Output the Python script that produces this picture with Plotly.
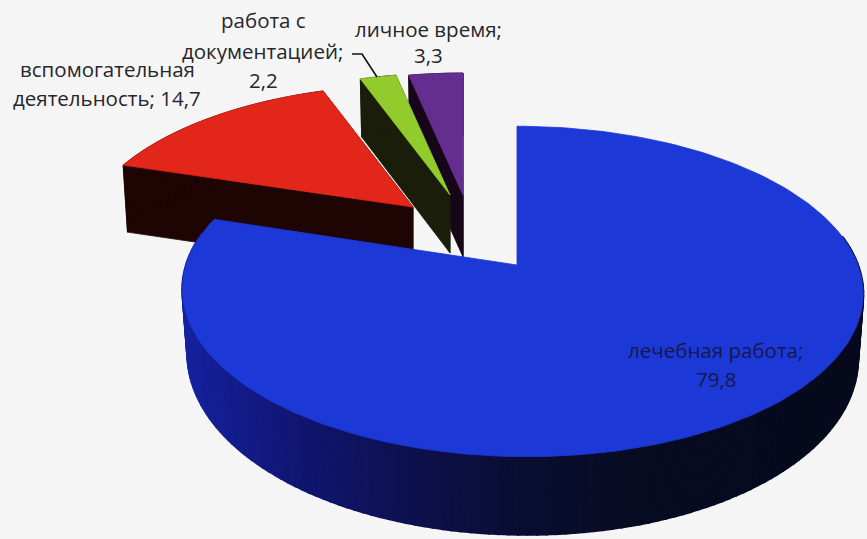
import numpy as np
import plotly.graph_objects as go

# Shares of working time, percent
categories = ["лечебная работа", "вспомогательная деятельность", "работа с документацией", "личное время"]
values = [79.8, 14.7, 2.2, 3.3]
top_colors = ["#1c38d6", "#e2261a", "#91cb2c", "#642d90"]
wall_colors = [None, "#1f0404", "#1b1d0b", "#170618"]

# Per-slice apex and projection of the tilted disc (pixel axes)
apex_x = [517, 413, 450, 463]
apex_y = [265, 207, 195, 195]
radius_x = [336, 325, 324, 325]
radius_y = [161, 151, 151, 151]
perspective = [0.16, 0.238, 0.238, 0.238]
shear = [5, 0, 0, 0]
depth_base = [62, 67, 58, 62]
depth_front = [16, 0, 0, 0]
bottom_scale = 0.985

# Shading of the large slice's rim, from left to right
rim_x = [180, 300, 430, 520, 640, 870]
rim_r = [22, 16, 14, 10, 7, 6]
rim_g = [34, 22, 16, 14, 12, 10]
rim_b = [160, 112, 72, 50, 34, 28]

# Text lines: wording, centre x, centre y, colour
label_lines = [
    ("работа с", 263, 20, "#26262b"),
    ("документацией;", 262, 51, "#26262b"),
    ("2,2", 263, 80, "#26262b"),
    ("вспомогательная", 107, 69, "#26262b"),
    ("деятельность; 14,7", 107, 98, "#26262b"),
    ("личное время;", 428, 29, "#26262b"),
    ("3,3", 428, 55, "#26262b"),
    ("лечебная работа;", 715, 350, "#16184e"),
    ("79,8", 716, 379, "#16184e"),
]
leader_x = [352, 362, 377]
leader_y = [54, 54, 77]


def project(i, theta):
    """Top-face and bottom-face points of slice i at clockwise angles theta."""
    x = np.sin(theta)
    y = -np.cos(theta)
    f = 1 / (1 - perspective[i] * y)
    sx = apex_x[i] + radius_x[i] * x * f + shear[i] * (y + 1)
    sy = apex_y[i] + radius_y[i] * y * f
    bx = apex_x[i] + (sx - apex_x[i]) * bottom_scale
    by = sy + depth_base[i] + depth_front[i] * np.maximum(y, 0)
    return sx, sy, bx, by


def polygon(xs, ys, color, name, width=0.8):
    return go.Scatter(
        x=list(xs) + [xs[0]], y=list(ys) + [ys[0]], mode="lines", fill="toself",
        fillcolor=color, line=dict(color=color, width=width),
        hoverinfo="skip", showlegend=False, name=name,
    )


fig = go.Figure()
shares = np.array(values) / sum(values)
edges = np.concatenate([[0], np.cumsum(shares)]) * 2 * np.pi

# Back slices first, large slice last so it covers their lower parts
for i in [3, 2, 1, 0]:
    n = max(8, int(shares[i] * 260))
    theta = np.linspace(edges[i], edges[i + 1], n)
    sx, sy, bx, by = project(i, theta)
    ax, ay = apex_x[i], apex_y[i]
    ab = ay + depth_base[i]
    if wall_colors[i] is not None:
        ring_x = np.concatenate([[ax], sx])
        ring_y = np.concatenate([[ay], sy])
        ring_bx = np.concatenate([[ax], bx])
        ring_by = np.concatenate([[ab], by])
        for k in range(len(ring_x)):
            m = (k + 1) % len(ring_x)
            fig.add_trace(polygon(
                [ring_x[k], ring_x[m], ring_bx[m], ring_bx[k]],
                [ring_y[k], ring_y[m], ring_by[m], ring_by[k]],
                wall_colors[i], categories[i] + " (бок)",
            ))
    else:
        # Only the viewer-facing part of the rim is drawn
        for k in range(n - 1):
            if np.cos(theta[k]) > 0.2:
                continue
            mid = (sx[k] + sx[k + 1]) / 2
            rgb = [int(np.interp(mid, rim_x, c)) for c in (rim_r, rim_g, rim_b)]
            fig.add_trace(polygon(
                [sx[k], sx[k + 1], bx[k + 1], bx[k]],
                [sy[k], sy[k + 1], by[k + 1], by[k]],
                f"rgb({rgb[0]},{rgb[1]},{rgb[2]})", categories[i] + " (бок)", width=2.2,
            ))
    fig.add_trace(polygon(
        np.concatenate([[ax], sx]), np.concatenate([[ay], sy]),
        top_colors[i], categories[i],
    ))

fig.add_trace(go.Scatter(
    x=leader_x, y=leader_y, mode="lines", line=dict(color="#111111", width=1.6),
    hoverinfo="skip", showlegend=False, name="выноска",
))

for text, cx, cy, color in label_lines:
    fig.add_annotation(
        x=cx, y=cy, text=text, showarrow=False, xanchor="center", yanchor="middle",
        font=dict(family="Open Sans", size=20.5, color=color),
    )

fig.update_layout(
    width=867, height=539, margin=dict(l=0, r=0, t=0, b=0),
    paper_bgcolor="#f5f5f6", plot_bgcolor="#f5f5f6", showlegend=False,
    xaxis=dict(range=[0, 867], visible=False, fixedrange=True),
    yaxis=dict(range=[539, 0], visible=False, fixedrange=True),
)
fig.write_html("out.html", config=dict(displayModeBar=False))
